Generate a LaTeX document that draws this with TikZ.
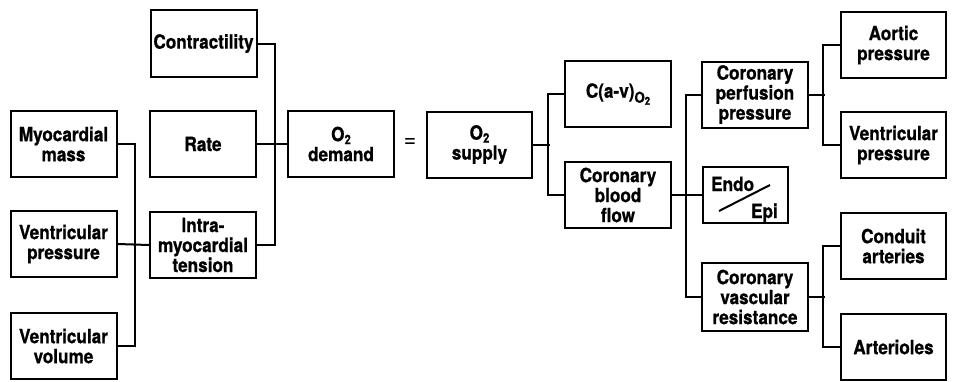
\documentclass[tikz,border=0pt]{standalone}
\usepackage{fontspec}
\setmainfont[FakeStretch=0.88,BoldFeatures={FakeBold=0.8}]{TeX Gyre Heros}
\newcommand{\lowtwo}{\raisebox{-3pt}{\fontsize{13}{13}\selectfont 2}}
\begin{document}
\begin{tikzpicture}[x=1pt,y=-1pt,
  lbl/.style={font=\fontsize{19.5}{20}\selectfont\bfseries},
  box/.style={draw,line width=2pt,minimum width=106pt,minimum height=66pt,
    inner sep=1pt,align=center,lbl},
  conn/.style={line width=2pt}]
\useasboundingbox (0,0) rectangle (953,381);
% left column
\node[box] (mm) at (63.5,144) {Myocardial\\mass};
\node[box] (vp) at (63.5,244) {Ventricular\\pressure};
\node[box] (vv) at (63.5,346) {Ventricular\\volume};
% second column
\node[box,minimum height=67pt] (con) at (203.5,43.5) {Contractility};
\node[box] (rate) at (203,144) {Rate};
\node[box] (intra) at (203,245) {Intra-\\myocardial\\tension};
% demand / supply
\node[box] (dem) at (341,144) {O\lowtwo\\demand};
\node[font=\fontsize{24}{24}\selectfont] (eq) at (410,143) {=};
\node[box,minimum width=105pt] (sup) at (479.5,144.5) {O\lowtwo\\supply};
% supply branches
\node[box] (cav) at (618,94) {C(a-v)\raisebox{-5pt}{\fontsize{15}{15}\selectfont O\raisebox{-2pt}{\fontsize{11}{11}\selectfont 2}}};
\node[box] (cbf) at (618,195) {Coronary\\blood\\flow};
% flow branches
\node[box] (cpp) at (755,94.5) {Coronary\\perfusion\\pressure};
\node[draw,line width=2pt,minimum width=85pt,minimum height=56pt] (ee) at (745.5,195) {};
\node[anchor=base west,inner sep=0pt,lbl] (endo) at (711,191) {Endo};
\node[anchor=base east,inner sep=0pt,lbl] (epi) at (778,218) {Epi};
\draw[conn] (719,211) -- (770,185);
\node[box,minimum height=68pt] (cvr) at (755,297) {Coronary\\vascular\\resistance};
% right column
\node[box,minimum width=105pt] (ao) at (893.5,45) {Aortic\\pressure};
\node[box,minimum width=105pt] (vp2) at (893.5,145) {Ventricular\\pressure};
\node[box,minimum width=105pt] (ca) at (893.5,246) {Conduit\\arteries};
\node[box,minimum width=105pt] (art) at (893.5,347) {Arterioles};
% connectors
\draw[conn] (mm.east) -- ++(17,0) |- (vv.east);
\draw[conn] (vp.east) -- (intra.west);
\draw[conn] (con.east) -- ++(17,0) |- (intra.east);
\draw[conn] (rate.east) -- (dem.west);
\draw[conn] (cav.west) -- ++(-16,0) |- (cbf.west);
\draw[conn] (sup.east) -- ++(17,0);
\draw[conn] (cpp.west) -- ++(-15,0) |- (cvr.west);
\draw[conn] (cbf.east) -- (ee.west);
\draw[conn] (ao.west) -- ++(-17,0) |- (vp2.west);
\draw[conn] (cpp.east) -- ++(16,0);
\draw[conn] (ca.west) -- ++(-17,0) |- (art.west);
\draw[conn] (cvr.east) -- ++(16,0);
\end{tikzpicture}
\end{document}
